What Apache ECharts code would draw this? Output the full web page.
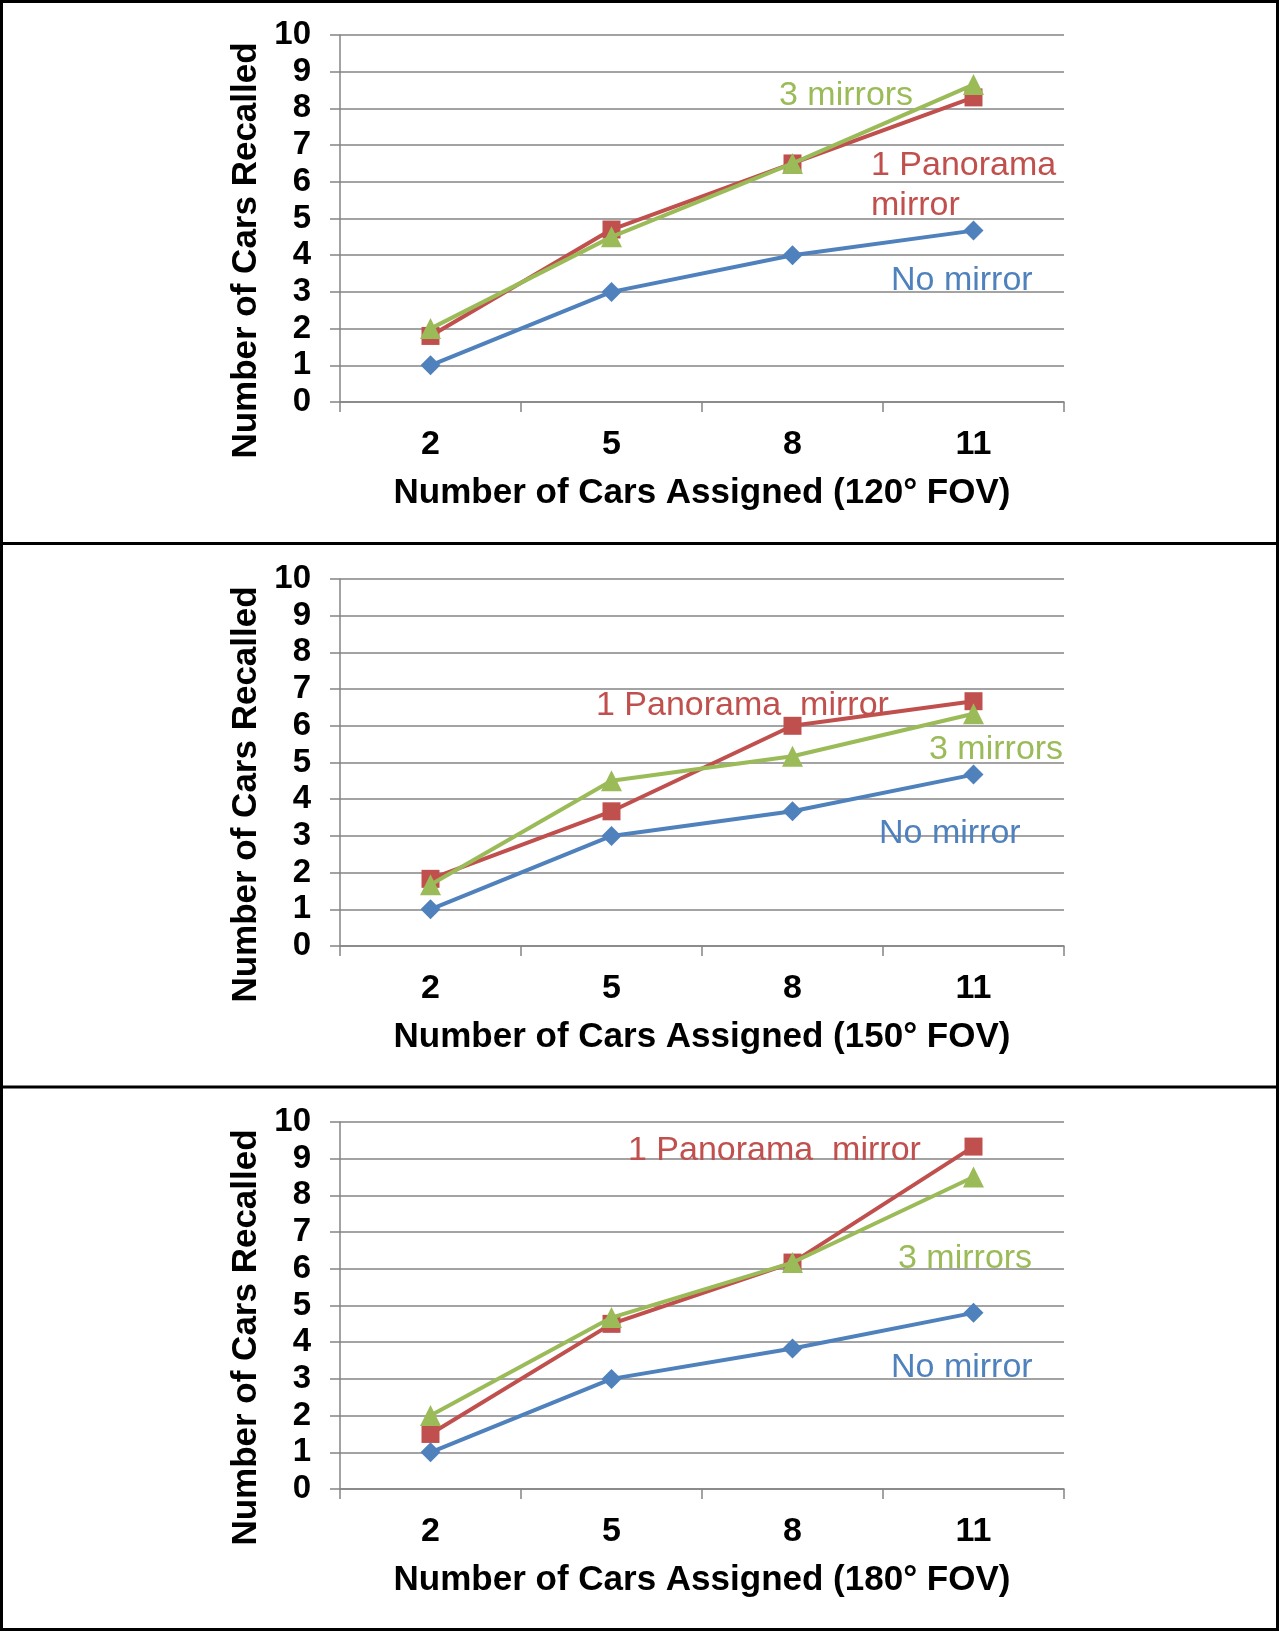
<!DOCTYPE html>
<html><head><meta charset="utf-8">
<script src="https://cdn.jsdelivr.net/npm/echarts@6/dist/echarts.min.js"></script>
<style>html,body{margin:0;padding:0;background:#fff}#c{width:1279px;height:1631px}</style>
</head><body><div id="c"></div>
<script>
// ---- data ----
const categories = ['2', '5', '8', '11'];
const seriesNames = ['No mirror', '1 Panorama mirror', '3 mirrors'];
const xTitles = ['Number of Cars Assigned (120° FOV)', 'Number of Cars Assigned (150° FOV)', 'Number of Cars Assigned (180° FOV)'];
const yTitle = 'Number of Cars Recalled';

const fov120NoMirror = [1, 3, 4, 4.67];
const fov120Panorama = [1.8, 4.7, 6.5, 8.3];
const fov120ThreeMirrors = [2, 4.5, 6.5, 8.65];

const fov150NoMirror = [1, 3, 3.67, 4.67];
const fov150Panorama = [1.83, 3.67, 6, 6.67];
const fov150ThreeMirrors = [1.67, 4.5, 5.17, 6.33];

const fov180NoMirror = [1, 3, 3.83, 4.8];
const fov180Panorama = [1.5, 4.5, 6.17, 9.33];
const fov180ThreeMirrors = [2, 4.67, 6.17, 8.5];

// label texts per panel
const panelLabels = [
  [['3 mirrors'], ['1 Panorama', 'mirror'], ['No mirror']],
  [['1 Panorama  mirror'], ['3 mirrors'], ['No mirror']],
  [['1 Panorama  mirror'], ['3 mirrors'], ['No mirror']]
];

// ---- styling / layout ----
const FONT = "'Liberation Sans', Arial, sans-serif";
const colors = { 'No mirror': '#4F81BD', '1 Panorama mirror': '#C0504D', '3 mirrors': '#9BBB59' };
const symbols = { 'No mirror': ['diamond', 20], '1 Panorama mirror': ['rect', 18], '3 mirrors': ['triangle', 21] };
const gridTops = [35, 579, 1122];
const gridH = 367;
const panelData = [
  [fov120NoMirror, fov120Panorama, fov120ThreeMirrors],
  [fov150NoMirror, fov150Panorama, fov150ThreeMirrors],
  [fov180NoMirror, fov180Panorama, fov180ThreeMirrors]
];
// label placement: [x, centerY, colorKey] per text line
const labelPlacement = [
  [[779, 96, '3 mirrors'], [871, 166, '1 Panorama mirror'], [871, 206, '1 Panorama mirror'], [891, 281, 'No mirror']],
  [[596, 706, '1 Panorama mirror'], [929, 750, '3 mirrors'], [879, 834, 'No mirror']],
  [[628, 1151, '1 Panorama mirror'], [898, 1259, '3 mirrors'], [891, 1368, 'No mirror']]
];

const grids = [], xAxes = [], yAxes = [], series = [], graphics = [];
for (let p = 0; p < 3; p++) {
  grids.push({ left: 340, top: gridTops[p], width: 724, height: gridH });
  xAxes.push({
    type: 'category', gridIndex: p, data: categories, boundaryGap: true,
    axisLine: { lineStyle: { color: '#848484', width: 1.5 } },
    axisTick: { show: true, length: 10, lineStyle: { color: '#848484', width: 1.5 } },
    axisLabel: { margin: 26, fontFamily: FONT, fontWeight: 'bold', fontSize: 34, color: '#000' },
    name: xTitles[p], nameLocation: 'middle', nameGap: 74,
    nameTextStyle: { fontFamily: FONT, fontWeight: 'bold', fontSize: 35, color: '#000' }
  });
  yAxes.push({
    type: 'value', gridIndex: p, min: 0, max: 10, interval: 1,
    axisLine: { show: true, lineStyle: { color: '#848484', width: 1.5 } },
    axisTick: { show: true, length: 10, lineStyle: { color: '#848484', width: 1.5 } },
    splitLine: { show: true, lineStyle: { color: '#848484', width: 1.5 } },
    axisLabel: { margin: 29, fontFamily: FONT, fontWeight: 'bold', fontSize: 33, color: '#000' },
    name: yTitle, nameLocation: 'middle', nameRotate: 90, nameGap: 75,
    nameTextStyle: { fontFamily: FONT, fontWeight: 'bold', fontSize: 35, color: '#000', padding: [0, 64, 0, 0] }
  });
  seriesNames.forEach((nm, i) => {
    series.push({
      type: 'line', name: nm, xAxisIndex: p, yAxisIndex: p, data: panelData[p][i],
      symbol: symbols[nm][0], symbolSize: symbols[nm][1],
      lineStyle: { color: colors[nm], width: 4 },
      itemStyle: { color: colors[nm] },
      z: 3 + i, animation: false
    });
  });
  const lines = [].concat(...panelLabels[p]);
  lines.forEach((txt, k) => {
    const pl = labelPlacement[p][k];
    graphics.push({
      type: 'text', x: pl[0], y: pl[1], z: 20,
      style: { text: txt, fill: colors[pl[2]], fontFamily: FONT, fontSize: 34, align: 'left', verticalAlign: 'middle' }
    });
  });
}
// frame
graphics.push({ type: 'rect', shape: { x: 1.5, y: 1.5, width: 1276, height: 1628 }, style: { fill: 'none', stroke: '#000', lineWidth: 3 }, z: 30 });
graphics.push({ type: 'line', shape: { x1: 0, y1: 543.5, x2: 1279, y2: 543.5 }, style: { stroke: '#000', lineWidth: 3 }, z: 30 });
graphics.push({ type: 'line', shape: { x1: 0, y1: 1087, x2: 1279, y2: 1087 }, style: { stroke: '#000', lineWidth: 3 }, z: 30 });

const chart = echarts.init(document.getElementById('c'), null, { renderer: 'canvas' });
chart.setOption({
  animation: false,
  backgroundColor: '#fff',
  grid: grids, xAxis: xAxes, yAxis: yAxes, series: series,
  graphic: graphics
});
</script></body></html>
